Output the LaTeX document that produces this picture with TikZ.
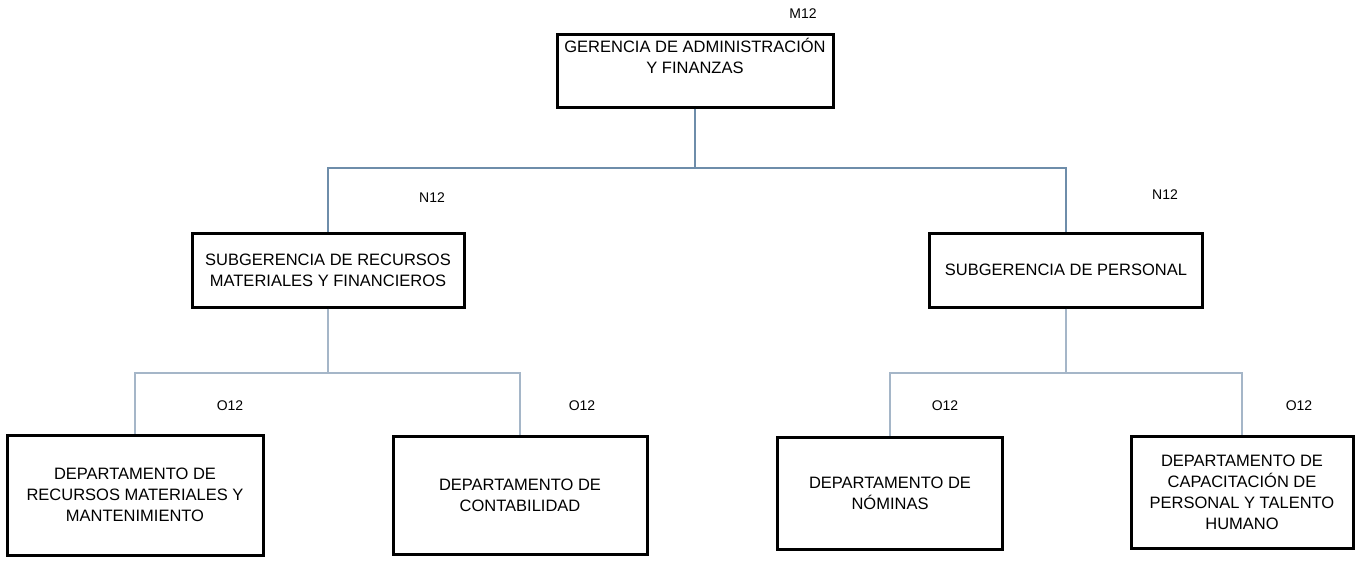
\documentclass[tikz,border=0pt]{standalone}
\usepackage{fontspec}
\setmainfont{Liberation Sans}
\begin{document}
\begin{tikzpicture}[x=1pt,y=-1pt,
  box/.style={draw=black, line width=3pt, rectangle, inner sep=0pt, align=center,
    font=\fontsize{16.5}{21}\selectfont},
  boxtext/.style={inner sep=0pt, align=center, font=\fontsize{16.5}{21}\selectfont},
  code/.style={inner sep=0pt, font=\fontsize{14}{16}\selectfont},
  linkA/.style={draw={rgb,255:red,110;green,141;blue,170}, line width=2.6pt},
  linkB/.style={draw={rgb,255:red,165;green,182;blue,200}, line width=2.4pt}]
\useasboundingbox (0,0) rectangle (1355,560);

% top
\node[box, minimum width=276pt, minimum height=73pt] (m) at (695,70.5) {};
\node[boxtext] (mt) at (695,56) {GERENCIA DE ADMINISTRACIÓN\\Y FINANZAS};
\node[code] (lm) at (803,14) {M12};

% second level
\node[box, minimum width=272pt, minimum height=74pt] (s1) at (328,270)
  {SUBGERENCIA DE RECURSOS\\MATERIALES Y FINANCIEROS};
\node[box, minimum width=273pt, minimum height=74pt] (s2) at (1066,270)
  {SUBGERENCIA DE PERSONAL};
\node[code] (ls1) at (432,198) {N12};
\node[code] (ls2) at (1165,195) {N12};

% third level
\node[box, minimum width=256pt, minimum height=120pt] (d1) at (135,495)
  {DEPARTAMENTO DE\\RECURSOS MATERIALES Y\\MANTENIMIENTO};
\node[box, minimum width=254pt, minimum height=118pt] (d2) at (520,495.5)
  {DEPARTAMENTO DE\\CONTABILIDAD};
\node[box, minimum width=225pt, minimum height=112pt] (d3) at (890,493)
  {DEPARTAMENTO DE\\NÓMINAS};
\node[box, minimum width=222pt, minimum height=112pt] (d4) at (1242,492)
  {DEPARTAMENTO DE\\CAPACITACIÓN DE\\PERSONAL Y TALENTO\\HUMANO};
\node[code] (l1) at (230,406) {O12};
\node[code] (l2) at (582,406) {O12};
\node[code] (l3) at (945,406) {O12};
\node[code] (l4) at (1299,406) {O12};

% connectors
\coordinate (b0) at (695,168);
\coordinate (b1) at (328,373);
\coordinate (b2) at (1066,373);
\draw[linkA] (m.south) -- (m.south |- b0);
\draw[linkA] (s1.north) |- (s2.north |- b0) -- (s2.north);
\draw[linkB] (s1.south) -- (s1.south |- b1);
\draw[linkB] (d1.north) |- (d2.north |- b1) -- (d2.north);
\draw[linkB] (s2.south) -- (s2.south |- b2);
\draw[linkB] (d3.north) |- (d4.north |- b2) -- (d4.north);
\end{tikzpicture}
\end{document}
